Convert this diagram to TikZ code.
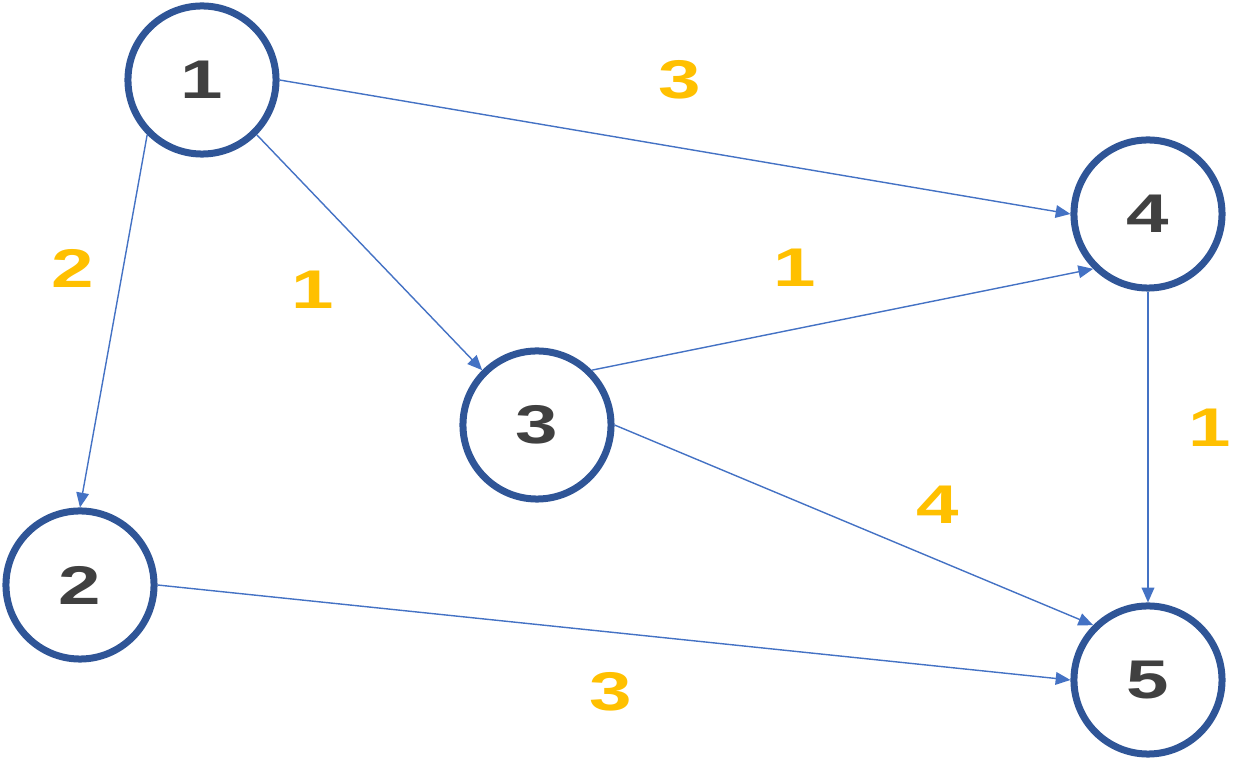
\documentclass[tikz,border=0pt]{standalone}
\usepackage{fontspec}
\setmainfont{Liberation Sans}
\usetikzlibrary{arrows.meta}
\definecolor{ring}{HTML}{2F5597}
\definecolor{edge}{HTML}{4472C4}
\definecolor{num}{HTML}{404040}
\definecolor{wt}{HTML}{FFC000}
\newcommand{\widedigit}[1]{\scalebox{1.4}[1]{#1}}
\begin{document}
\begin{tikzpicture}[x=0.01cm,y=-0.01cm,
  vert/.style={circle,draw=ring,line width=0.07cm,minimum size=1.48cm,inner sep=0pt,
    text=num,font=\fontsize{15.5}{15.5}\selectfont\bfseries},
  arc/.style={draw=edge,line width=0.4pt,-{Triangle[length=4.2pt,width=3.6pt,fill=edge,color=edge]}},
  wlab/.style={text=wt,font=\fontsize{15.5}{15.5}\selectfont\bfseries,inner sep=0pt}]
\useasboundingbox (0,0) rectangle (1250,761);
\node[vert] (n1) at (202,80) {\widedigit{1}};
\node[vert] (n2) at (80,585) {\widedigit{2}};
\node[vert] (n3) at (537,425) {\widedigit{3}};
\node[vert] (n4) at (1148,214) {\widedigit{4}};
\node[vert] (n5) at (1148,680) {\widedigit{5}};
\draw[arc] (n1.east) -- (n4.west);
\draw[arc] (n1.south east) -- (n3.north west);
\draw[arc] (n1.south west) -- (n2.north);
\draw[arc] (n3.north east) -- (n4.south west);
\draw[arc] (n3.east) -- (n5.north west);
\draw[arc] (n4.south) -- (n5.north);
\draw[arc] (n2.east) -- (n5.west);
\node[wlab] (w14) at (680,80) {\widedigit{3}};
\node[wlab] (w12) at (73,268) {\widedigit{2}};
\node[wlab] (w13) at (313,290) {\widedigit{1}};
\node[wlab] (w34) at (795,268) {\widedigit{1}};
\node[wlab] (w45) at (1210,428) {\widedigit{1}};
\node[wlab] (w35) at (938,505) {\widedigit{4}};
\node[wlab] (w25) at (611,692) {\widedigit{3}};
\end{tikzpicture}
\end{document}
